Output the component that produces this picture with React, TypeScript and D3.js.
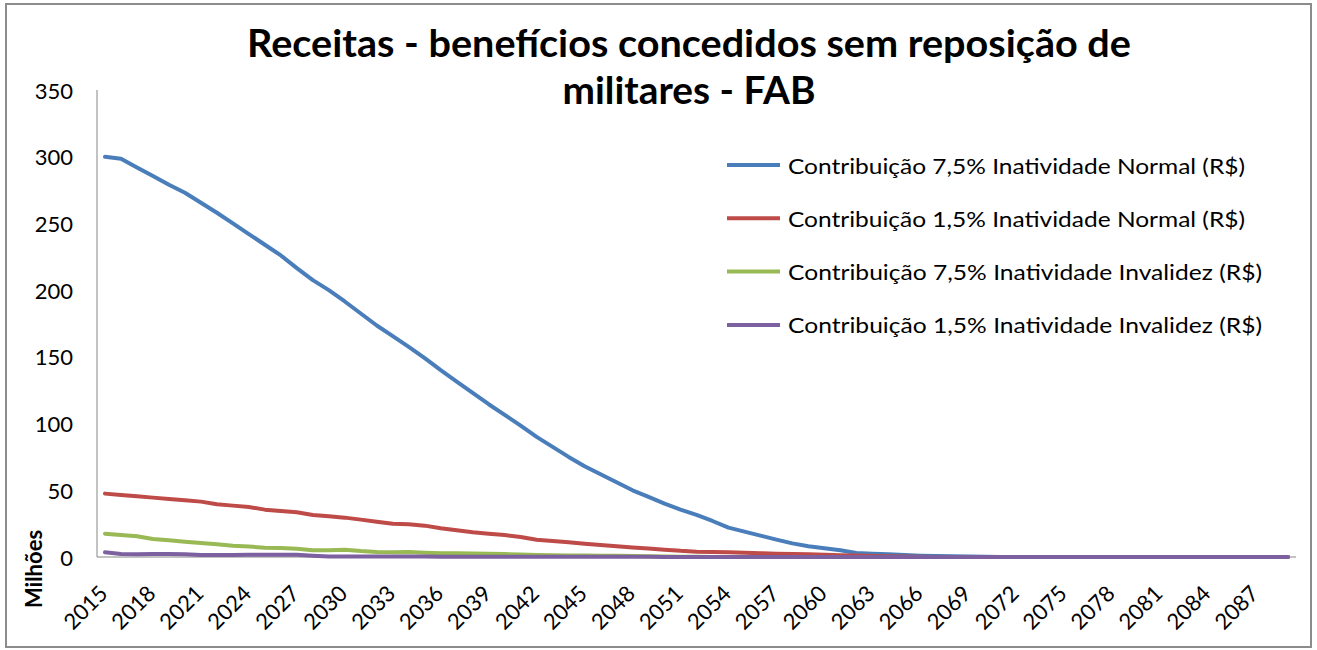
import React from "react";
import * as d3 from "d3";

// anos 2015..2089
const years = d3.range(2015, 2090);
const yTicks = [0, 50, 100, 150, 200, 250, 300, 350];

const seriesNames = [
  "Contribuição 7,5% Inatividade Normal (R$)",
  "Contribuição 1,5% Inatividade Normal (R$)",
  "Contribuição 7,5% Inatividade Invalidez (R$)",
  "Contribuição 1,5% Inatividade Invalidez (R$)",
];
const colors = ["#4A7EBB", "#BE4B48", "#98B954", "#7D60A0"];

// valores em milhões
const normal75 = [
  300, 298.5, 292, 285.5, 279, 273, 265.5, 258, 250, 242, 234, 226, 216.5, 207.5, 200,
  191.5, 182.5, 173.5, 165.5, 157.5, 149, 140, 131.5, 123, 114.5, 106.5, 98.5, 90, 82.5, 75,
  68, 62, 56, 50, 45, 40, 35.5, 31.5, 27, 22, 19, 16, 13, 10.2, 8,
  6.5, 5, 3, 2.5, 2, 1.5, 1, 0.7, 0.5, 0.3, 0.1, 0, 0, 0, 0,
  0, 0, 0, 0, 0, 0, 0, 0, 0, 0, 0, 0, 0, 0, 0,
];
const normal15 = [
  47.5, 46.5, 45.5, 44.5, 43.5, 42.5, 41.5, 39.5, 38.5, 37.5, 35.5, 34.5, 33.5, 31.5, 30.5,
  29.5, 28, 26.5, 25, 24.5, 23.5, 21.5, 20, 18.5, 17.5, 16.5, 15, 13, 12, 11,
  10, 9, 8, 7.2, 6.3, 5.5, 4.6, 4, 3.8, 3.5, 3.2, 2.8, 2.5, 2.2, 2,
  1.7, 1.4, 1.1, 0.8, 0.5, 0.3, 0.1, 0, 0, 0, 0, 0, 0, 0, 0,
  0, 0, 0, 0, 0, 0, 0, 0, 0, 0, 0, 0, 0, 0, 0,
];
const invalidez75 = [
  17.5, 16.5, 15.5, 13.5, 12.5, 11.5, 10.5, 9.5, 8.5, 7.8, 7, 6.8, 6.2, 5, 5,
  5.5, 4.5, 3.8, 3.5, 3.8, 3.2, 2.8, 2.8, 2.6, 2.5, 2.2, 1.8, 1.5, 1.3, 1.2,
  1.1, 1, 0.9, 0.8, 0.6, 0.4, 0.2, 0.1, 0, 0, 0, 0, 0, 0, 0,
  0, 0, 0, 0, 0, 0, 0, 0, 0, 0, 0, 0, 0, 0, 0,
  0, 0, 0, 0, 0, 0, 0, 0, 0, 0, 0, 0, 0, 0, 0,
];
const invalidez15 = [
  3.5, 2.2, 2, 2.2, 2.2, 2, 1.5, 1.5, 1.5, 1.6, 1.6, 1.6, 1.6, 1, 0.3,
  0.3, 0.3, 0.3, 0.3, 0.3, 0.3, 0.2, 0.2, 0.2, 0.2, 0.2, 0.2, 0.2, 0.1, 0.1,
  0.1, 0.1, 0.1, 0.1, 0.1, 0, 0, 0, 0, 0, 0, 0, 0, 0, 0,
  0, 0, 0, 0, 0, 0, 0, 0, 0, 0, 0, 0, 0, 0, 0,
  0, 0, 0, 0, 0, 0, 0, 0, 0, 0, 0, 0, 0, 0, 0,
];
const allSeries = [normal75, normal15, invalidez75, invalidez15];
const legendWidths = [457, 457, 474, 474];

const width = 1317;
const height = 650;
const plotLeft = 97;
const plotRight = 1296;
const plotTop = 90;
const plotBottom = 557;
const font = "Lato, 'Open Sans', sans-serif";

export default function App() {
  const x = d3.scalePoint<number>().domain(years).range([plotLeft, plotRight]).padding(0.5);
  const y = d3.scaleLinear().domain([0, 350]).range([plotBottom, plotTop]);

  const line = d3
    .line<number>()
    .x((d, i) => x(years[i])!)
    .y((d) => y(d));

  const tickYears = years.filter((yr) => (yr - 2015) % 3 === 0);

  return (
    <svg
      width={width}
      height={height}
      style={{ position: "absolute", left: 0, top: 0, background: "#fff" }}
      fontFamily={font}
    >
      <rect x={6} y={4} width={1305} height={643} fill="#fff" stroke="#8c8c8c" strokeWidth={2} />

      {/* titulo */}
      <text x={689} y={57} textAnchor="middle" fontSize={38} fontWeight="bold" textLength={884} lengthAdjust="spacingAndGlyphs">
        Receitas - benefícios concedidos sem reposição de
      </text>
      <text x={689} y={104} textAnchor="middle" fontSize={38} fontWeight="bold" textLength={253} lengthAdjust="spacingAndGlyphs">
        militares - FAB
      </text>

      {/* eixo y */}
      <line x1={plotLeft} x2={plotLeft} y1={plotTop} y2={plotBottom} stroke="#868686" strokeWidth={1} />
      {yTicks.map((t) => (
        <text key={t} x={73} y={y(t)} textAnchor="end" dominantBaseline="central" fontSize={22}>
          {t}
        </text>
      ))}
      <text transform={`translate(42,569) rotate(-90)`} textAnchor="middle" fontSize={22} fontWeight="bold">
        Milhões
      </text>

      {/* eixo x */}
      <line x1={plotLeft} x2={plotRight} y1={plotBottom} y2={plotBottom} stroke="#868686" strokeWidth={1} />
      {tickYears.map((yr) => (
        <text key={yr} transform={`translate(${x(yr)! + 4},595) rotate(-45)`} textAnchor="end" fontSize={22}>
          {yr}
        </text>
      ))}

      {/* linhas */}
      {allSeries.map((s, i) => (
        <path key={i} d={line(s)!} fill="none" stroke={colors[i]} strokeWidth={4} strokeLinejoin="round" strokeLinecap="round" />
      ))}

      {/* legenda */}
      {seriesNames.map((name, i) => (
        <g key={name} transform={`translate(0,${165 + i * 53.3})`}>
          <line x1={727} x2={780} y1={0} y2={0} stroke={colors[i]} strokeWidth={4} />
          <text x={788} y={0} dominantBaseline="central" fontSize={22} textLength={legendWidths[i]} lengthAdjust="spacingAndGlyphs">
            {name}
          </text>
        </g>
      ))}
    </svg>
  );
}
